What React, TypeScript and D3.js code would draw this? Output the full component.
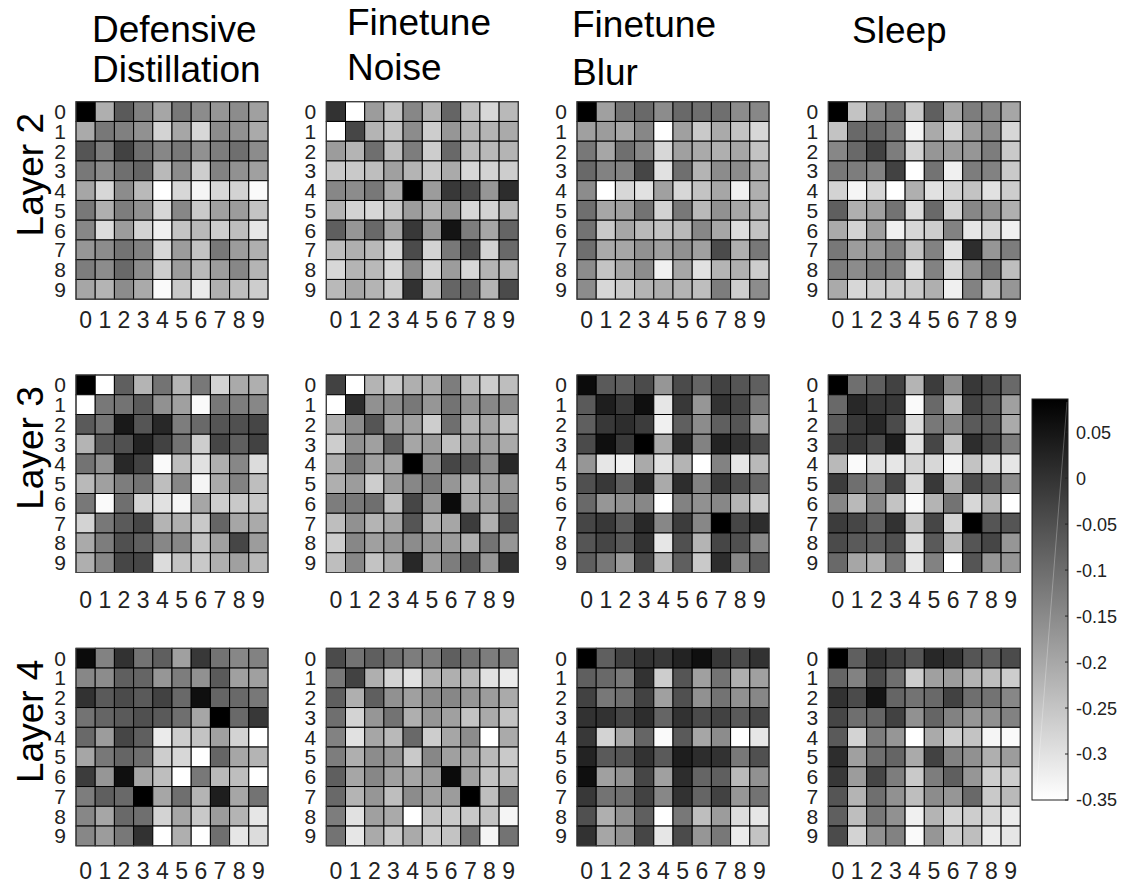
import * as d3 from "d3";

// colour range
const vMin = -0.35;
const vMax = 0.086;

const classLabels = ["0", "1", "2", "3", "4", "5", "6", "7", "8", "9"];
const methodTitles = [
  ["Defensive", "Distillation"],
  ["Finetune", "Noise"],
  ["Finetune", "Blur"],
  ["Sleep"],
];
const layerLabels = ["Layer 2", "Layer 3", "Layer 4"];
const colorbarTicks = [0.05, 0, -0.05, -0.1, -0.15, -0.2, -0.25, -0.3, -0.35];

// Layer 2
const ddLayer2 = [
  [0.086, -0.214, -0.068, -0.133, -0.197, -0.12, -0.154, -0.171, -0.154, -0.188],
  [-0.205, -0.12, -0.133, -0.162, -0.274, -0.197, -0.282, -0.154, -0.162, -0.205],
  [-0.06, -0.128, -0.026, -0.103, -0.145, -0.12, -0.162, -0.128, -0.103, -0.154],
  [-0.12, -0.154, -0.103, -0.086, -0.231, -0.154, -0.265, -0.137, -0.162, -0.188],
  [-0.197, -0.282, -0.154, -0.231, -0.35, -0.282, -0.333, -0.282, -0.274, -0.342],
  [-0.12, -0.214, -0.128, -0.162, -0.282, -0.145, -0.257, -0.188, -0.18, -0.248],
  [-0.145, -0.291, -0.18, -0.274, -0.325, -0.248, -0.231, -0.265, -0.239, -0.308],
  [-0.171, -0.154, -0.111, -0.137, -0.282, -0.18, -0.248, -0.12, -0.18, -0.214],
  [-0.128, -0.154, -0.094, -0.154, -0.265, -0.18, -0.231, -0.18, -0.145, -0.222],
  [-0.197, -0.222, -0.154, -0.205, -0.342, -0.257, -0.316, -0.214, -0.239, -0.265],
];
const fnLayer2 = [
  [0.0, -0.35, -0.18, -0.248, -0.145, -0.222, -0.086, -0.239, -0.282, -0.231],
  [-0.35, -0.034, -0.222, -0.248, -0.154, -0.265, -0.171, -0.222, -0.222, -0.205],
  [-0.18, -0.222, -0.103, -0.239, -0.128, -0.265, -0.094, -0.231, -0.231, -0.222],
  [-0.257, -0.257, -0.239, -0.188, -0.222, -0.257, -0.205, -0.282, -0.274, -0.265],
  [-0.145, -0.154, -0.12, -0.205, 0.086, -0.18, -0.009, -0.043, -0.171, 0.009],
  [-0.222, -0.274, -0.282, -0.257, -0.18, -0.222, -0.171, -0.282, -0.274, -0.231],
  [-0.077, -0.171, -0.094, -0.197, -0.009, -0.171, 0.051, -0.128, -0.197, -0.086],
  [-0.239, -0.214, -0.231, -0.282, -0.043, -0.274, -0.12, -0.051, -0.274, -0.094],
  [-0.282, -0.222, -0.231, -0.282, -0.154, -0.274, -0.18, -0.282, -0.222, -0.222],
  [-0.231, -0.197, -0.222, -0.265, 0.0, -0.231, -0.086, -0.094, -0.222, -0.043],
];
const fbLayer2 = [
  [0.086, -0.188, -0.111, -0.094, -0.154, -0.094, -0.103, -0.103, -0.154, -0.145],
  [-0.188, -0.18, -0.197, -0.145, -0.35, -0.188, -0.257, -0.205, -0.248, -0.282],
  [-0.12, -0.197, -0.103, -0.145, -0.282, -0.188, -0.205, -0.214, -0.197, -0.248],
  [-0.094, -0.137, -0.137, -0.034, -0.299, -0.103, -0.222, -0.154, -0.154, -0.205],
  [-0.154, -0.35, -0.282, -0.299, -0.188, -0.282, -0.248, -0.197, -0.325, -0.214],
  [-0.103, -0.197, -0.188, -0.111, -0.274, -0.12, -0.231, -0.162, -0.197, -0.222],
  [-0.111, -0.257, -0.197, -0.231, -0.248, -0.231, -0.145, -0.197, -0.291, -0.248],
  [-0.103, -0.205, -0.197, -0.162, -0.188, -0.162, -0.188, -0.043, -0.214, -0.12],
  [-0.154, -0.248, -0.197, -0.154, -0.325, -0.197, -0.299, -0.222, -0.214, -0.265],
  [-0.154, -0.282, -0.257, -0.222, -0.214, -0.222, -0.239, -0.128, -0.265, -0.154],
];
const slLayer2 = [
  [0.086, -0.248, -0.154, -0.12, -0.257, -0.077, -0.197, -0.128, -0.145, -0.197],
  [-0.248, -0.094, -0.094, -0.128, -0.333, -0.205, -0.274, -0.18, -0.154, -0.282],
  [-0.145, -0.094, -0.026, -0.128, -0.274, -0.171, -0.18, -0.171, -0.128, -0.257],
  [-0.12, -0.128, -0.137, -0.026, -0.35, -0.111, -0.325, -0.128, -0.137, -0.257],
  [-0.274, -0.333, -0.282, -0.35, -0.214, -0.299, -0.274, -0.248, -0.299, -0.265],
  [-0.077, -0.214, -0.188, -0.111, -0.291, -0.094, -0.274, -0.145, -0.162, -0.214],
  [-0.205, -0.274, -0.188, -0.325, -0.282, -0.265, -0.137, -0.308, -0.282, -0.325],
  [-0.12, -0.18, -0.171, -0.137, -0.248, -0.137, -0.299, 0.009, -0.171, -0.128],
  [-0.128, -0.154, -0.128, -0.137, -0.291, -0.137, -0.282, -0.162, -0.111, -0.239],
  [-0.205, -0.282, -0.265, -0.265, -0.257, -0.214, -0.325, -0.137, -0.239, -0.171],
];

// Layer 3
const ddLayer3 = [
  [0.086, -0.35, -0.077, -0.222, -0.111, -0.222, -0.12, -0.274, -0.205, -0.214],
  [-0.35, -0.12, -0.111, -0.068, -0.162, -0.188, -0.342, -0.12, -0.128, -0.145],
  [-0.068, -0.111, 0.043, -0.06, 0.017, -0.128, -0.094, -0.06, -0.051, -0.034],
  [-0.222, -0.068, -0.051, 0.026, -0.026, -0.111, -0.265, -0.034, -0.077, -0.026],
  [-0.111, -0.162, 0.017, -0.026, -0.342, -0.239, -0.299, -0.214, -0.145, -0.291],
  [-0.231, -0.188, -0.128, -0.111, -0.239, -0.145, -0.333, -0.205, -0.137, -0.239],
  [-0.12, -0.342, -0.103, -0.274, -0.299, -0.333, -0.197, -0.265, -0.257, -0.257],
  [-0.274, -0.12, -0.068, -0.034, -0.222, -0.214, -0.257, -0.086, -0.197, -0.205],
  [-0.205, -0.128, -0.051, -0.077, -0.145, -0.145, -0.248, -0.188, -0.034, -0.18],
  [-0.214, -0.145, -0.034, -0.034, -0.291, -0.248, -0.257, -0.214, -0.188, -0.231],
];
const fnLayer3 = [
  [-0.026, -0.35, -0.222, -0.257, -0.214, -0.214, -0.128, -0.239, -0.265, -0.239],
  [-0.35, 0.009, -0.162, -0.154, -0.12, -0.171, -0.111, -0.162, -0.145, -0.154],
  [-0.214, -0.154, -0.06, -0.188, -0.188, -0.265, -0.103, -0.222, -0.197, -0.248],
  [-0.265, -0.162, -0.188, -0.077, -0.197, -0.18, -0.239, -0.197, -0.188, -0.205],
  [-0.214, -0.12, -0.188, -0.197, 0.086, -0.154, -0.034, -0.06, -0.154, 0.017],
  [-0.214, -0.18, -0.265, -0.18, -0.145, -0.12, -0.171, -0.222, -0.18, -0.18],
  [-0.128, -0.12, -0.103, -0.239, -0.034, -0.171, 0.068, -0.197, -0.188, -0.128],
  [-0.239, -0.162, -0.222, -0.197, -0.06, -0.214, -0.197, -0.017, -0.214, -0.06],
  [-0.265, -0.145, -0.188, -0.171, -0.154, -0.171, -0.18, -0.214, -0.111, -0.171],
  [-0.239, -0.145, -0.248, -0.205, 0.017, -0.18, -0.128, -0.06, -0.171, 0.0],
];
const fbLayer3 = [
  [0.068, -0.068, -0.077, -0.043, -0.171, -0.043, -0.086, -0.026, -0.06, -0.077],
  [-0.068, 0.034, -0.009, 0.06, -0.308, -0.009, -0.171, 0.0, -0.034, -0.12],
  [-0.077, -0.009, 0.009, -0.017, -0.325, -0.077, -0.154, -0.077, -0.06, -0.188],
  [-0.043, 0.06, -0.009, 0.086, -0.205, 0.017, -0.137, 0.026, 0.0, -0.043],
  [-0.171, -0.308, -0.325, -0.205, -0.299, -0.222, -0.35, -0.137, -0.308, -0.231],
  [-0.051, -0.009, -0.077, 0.017, -0.205, 0.009, -0.137, -0.009, -0.051, -0.086],
  [-0.094, -0.171, -0.162, -0.145, -0.35, -0.137, -0.162, -0.145, -0.222, -0.257],
  [-0.034, -0.009, -0.068, 0.017, -0.145, -0.017, -0.145, 0.086, -0.034, 0.009],
  [-0.06, -0.034, -0.068, 0.0, -0.308, -0.051, -0.222, -0.034, -0.051, -0.145],
  [-0.077, -0.12, -0.18, -0.034, -0.231, -0.077, -0.257, 0.009, -0.145, -0.068],
];
const slLayer3 = [
  [0.086, -0.103, -0.077, -0.026, -0.222, -0.017, -0.154, -0.009, -0.043, -0.094],
  [-0.094, 0.017, -0.009, -0.009, -0.342, -0.094, -0.239, -0.026, -0.068, -0.188],
  [-0.068, -0.009, 0.017, -0.043, -0.291, -0.12, -0.145, -0.068, -0.068, -0.205],
  [-0.026, -0.009, -0.043, 0.034, -0.299, -0.034, -0.248, 0.009, -0.043, -0.128],
  [-0.231, -0.342, -0.299, -0.308, -0.274, -0.282, -0.333, -0.248, -0.291, -0.308],
  [-0.017, -0.103, -0.128, -0.034, -0.282, -0.009, -0.222, -0.043, -0.068, -0.154],
  [-0.145, -0.231, -0.145, -0.248, -0.342, -0.222, -0.111, -0.282, -0.231, -0.35],
  [-0.017, -0.034, -0.077, 0.0, -0.248, -0.034, -0.274, 0.086, -0.06, -0.06],
  [-0.043, -0.068, -0.077, -0.051, -0.291, -0.068, -0.231, -0.06, -0.034, -0.171],
  [-0.094, -0.197, -0.214, -0.12, -0.308, -0.137, -0.35, -0.06, -0.171, -0.171],
];

// Layer 4
const ddLayer4 = [
  [0.068, -0.137, 0.0, -0.111, -0.077, -0.188, -0.009, -0.111, -0.145, -0.137],
  [-0.145, -0.154, -0.077, -0.086, -0.171, -0.128, -0.162, -0.068, -0.188, -0.188],
  [0.0, -0.068, -0.043, -0.068, -0.026, -0.094, 0.06, -0.086, -0.094, -0.12],
  [-0.111, -0.086, -0.068, -0.051, -0.068, -0.103, -0.197, 0.086, -0.094, -0.009],
  [-0.094, -0.18, -0.034, -0.077, -0.316, -0.265, -0.248, -0.188, -0.274, -0.35],
  [-0.197, -0.12, -0.086, -0.103, -0.265, -0.282, -0.35, -0.086, -0.197, -0.222],
  [-0.017, -0.171, 0.06, -0.197, -0.239, -0.35, -0.12, -0.231, -0.239, -0.35],
  [-0.128, -0.077, -0.094, 0.086, -0.197, -0.103, -0.222, 0.034, -0.197, -0.111],
  [-0.145, -0.197, -0.094, -0.103, -0.274, -0.197, -0.257, -0.18, -0.222, -0.308],
  [-0.145, -0.18, -0.12, 0.0, -0.35, -0.214, -0.35, -0.103, -0.308, -0.291],
];
const fnLayer4 = [
  [-0.043, -0.111, -0.077, -0.103, -0.128, -0.128, -0.077, -0.111, -0.128, -0.128],
  [-0.12, -0.026, -0.214, -0.274, -0.299, -0.222, -0.214, -0.231, -0.299, -0.316],
  [-0.077, -0.214, -0.077, -0.162, -0.188, -0.154, -0.145, -0.171, -0.18, -0.205],
  [-0.103, -0.274, -0.171, -0.111, -0.214, -0.171, -0.188, -0.248, -0.205, -0.248],
  [-0.137, -0.299, -0.197, -0.231, -0.094, -0.265, -0.197, -0.154, -0.35, -0.205],
  [-0.128, -0.214, -0.154, -0.171, -0.257, -0.145, -0.188, -0.197, -0.231, -0.257],
  [-0.077, -0.197, -0.145, -0.188, -0.197, -0.18, 0.068, -0.188, -0.248, -0.239],
  [-0.094, -0.222, -0.171, -0.239, -0.154, -0.188, -0.18, 0.086, -0.239, -0.12],
  [-0.128, -0.299, -0.188, -0.205, -0.35, -0.248, -0.257, -0.257, -0.248, -0.333],
  [-0.111, -0.308, -0.205, -0.257, -0.205, -0.257, -0.248, -0.111, -0.333, -0.111],
];
const fbLayer4 = [
  [0.086, -0.077, -0.026, 0.0, -0.009, 0.026, 0.06, -0.009, -0.043, 0.0],
  [-0.077, -0.094, -0.12, 0.0, -0.265, -0.06, -0.188, -0.111, -0.214, -0.188],
  [-0.026, -0.12, -0.103, -0.026, -0.188, -0.051, -0.162, -0.111, -0.162, -0.145],
  [0.0, 0.0, -0.034, 0.009, -0.086, 0.0, -0.043, -0.026, -0.068, -0.034],
  [-0.009, -0.274, -0.197, -0.086, -0.342, -0.068, -0.197, -0.154, -0.35, -0.308],
  [0.026, -0.068, -0.06, 0.0, -0.068, 0.034, 0.009, 0.0, -0.12, -0.051],
  [0.06, -0.188, -0.162, -0.034, -0.188, 0.009, -0.086, -0.077, -0.231, -0.162],
  [-0.009, -0.111, -0.103, -0.026, -0.145, 0.0, -0.086, -0.026, -0.171, -0.111],
  [-0.051, -0.214, -0.162, -0.077, -0.35, -0.12, -0.239, -0.18, -0.291, -0.308],
  [0.0, -0.197, -0.162, -0.034, -0.308, -0.043, -0.171, -0.12, -0.316, -0.248],
];
const slLayer4 = [
  [0.086, -0.077, 0.0, -0.026, -0.06, 0.017, 0.0, -0.06, -0.077, -0.043],
  [-0.086, -0.137, -0.043, -0.103, -0.265, -0.188, -0.18, -0.222, -0.239, -0.265],
  [0.0, -0.043, 0.051, -0.086, -0.111, -0.094, -0.026, -0.103, -0.111, -0.145],
  [-0.034, -0.103, -0.086, -0.026, -0.162, -0.086, -0.137, -0.171, -0.162, -0.137],
  [-0.068, -0.274, -0.128, -0.171, -0.35, -0.205, -0.265, -0.248, -0.333, -0.342],
  [0.009, -0.188, -0.103, -0.086, -0.205, -0.026, -0.137, -0.162, -0.214, -0.18],
  [-0.009, -0.18, -0.034, -0.128, -0.257, -0.128, -0.077, -0.171, -0.265, -0.265],
  [-0.06, -0.222, -0.103, -0.162, -0.239, -0.154, -0.171, -0.094, -0.257, -0.231],
  [-0.077, -0.239, -0.12, -0.162, -0.325, -0.222, -0.274, -0.265, -0.282, -0.316],
  [-0.043, -0.274, -0.162, -0.137, -0.342, -0.171, -0.265, -0.239, -0.316, -0.308],
];

const panels = [
  [ddLayer2, fnLayer2, fbLayer2, slLayer2],
  [ddLayer3, fnLayer3, fbLayer3, slLayer3],
  [ddLayer4, fnLayer4, fbLayer4, slLayer4],
];

// layout
const FONT = "'Liberation Sans', Arial, Helvetica, sans-serif";
const panelW = 192;
const panelH = 197.5;
const colX = [76, 326.3, 577, 828.3];
const rowY = [101.7, 375, 648.3];
const xLabelDy = [29, 35, 33];
const titleX = [92, 347, 572, 852];
const titleY = [[42, 82], [35, 80], [37, 85], [43]];
const cb = { x: 1032, w: 36, top: 399, bottom: 800 };

export default function App() {
  const color = d3
    .scaleLinear<string>()
    .domain([vMin, vMax])
    .range(["#ffffff", "#000000"])
    .clamp(true);
  const bx = d3.scaleBand<number>().domain(d3.range(10)).range([0, panelW]);
  const by = d3.scaleBand<number>().domain(d3.range(10)).range([0, panelH]);
  const cbY = d3.scaleLinear().domain([vMin, vMax]).range([cb.bottom, cb.top]);

  return (
    <div style={{ position: "absolute", left: 0, top: 0 }}>
      <svg width={1130} height={883} style={{ display: "block", background: "#fff" }} fontFamily={FONT}>
        <defs>
          <linearGradient id="cbGrad" x1="0" y1="1" x2="0" y2="0">
            <stop offset="0" stopColor={color(vMin)} />
            <stop offset="1" stopColor={color(vMax)} />
          </linearGradient>
        </defs>

        {/* titles */}
        {methodTitles.map((lines, c) =>
          lines.map((t, k) => (
            <text key={`t${c}${k}`} x={titleX[c]} y={titleY[c][k]} fontSize={37} fill="#000">
              {t}
            </text>
          ))
        )}

        {/* layer labels */}
        {layerLabels.map((l, r) => (
          <text
            key={l}
            transform={`translate(43,${rowY[r] + 73}) rotate(-90)`}
            textAnchor="middle"
            fontSize={37}
            fill="#000"
          >
            {l}
          </text>
        ))}

        {/* heatmaps */}
        {panels.map((row, r) =>
          row.map((m, c) => (
            <g key={`p${r}${c}`} transform={`translate(${colX[c]},${rowY[r]})`}>
              {m.map((vals, i) =>
                vals.map((v, j) => (
                  <rect
                    key={`${i}-${j}`}
                    x={bx(j)}
                    y={by(i)}
                    width={bx.bandwidth()}
                    height={by.bandwidth()}
                    fill={color(v)}
                    stroke="#000"
                    strokeWidth={1}
                  />
                ))
              )}
              <rect x={0} y={0} width={panelW} height={panelH} fill="none" stroke="#444" strokeWidth={1} />
              {classLabels.map((lab, i) => (
                <text
                  key={`y${i}`}
                  x={-10}
                  y={by(i)! + by.bandwidth() / 2}
                  dy="0.36em"
                  textAnchor="end"
                  fontSize={21}
                  fill="#222"
                >
                  {lab}
                </text>
              ))}
              {classLabels.map((lab, j) => (
                <text
                  key={`x${j}`}
                  x={bx(j)! + bx.bandwidth() / 2}
                  y={panelH + xLabelDy[r]}
                  textAnchor="middle"
                  fontSize={23}
                  fill="#222"
                >
                  {lab}
                </text>
              ))}
            </g>
          ))
        )}

        {/* colorbar */}
        <rect x={cb.x} y={cb.top} width={cb.w} height={cb.bottom - cb.top} fill="url(#cbGrad)" />
        <line
          x1={cb.x + cb.w - 1}
          y1={cb.top + 3}
          x2={cb.x + 4}
          y2={cb.bottom - 2}
          stroke="#fff"
          strokeOpacity={0.35}
          strokeWidth={0.8}
        />
        <rect
          x={cb.x}
          y={cb.top}
          width={cb.w}
          height={cb.bottom - cb.top}
          fill="none"
          stroke="#222"
          strokeWidth={1}
        />
        {colorbarTicks.map((t) => (
          <g key={`cb${t}`}>
            <line x1={cb.x + cb.w - 3} x2={cb.x + cb.w} y1={cbY(t)} y2={cbY(t)} stroke="#222" strokeWidth={1} />
            <text x={cb.x + cb.w + 8} y={cbY(t)} dy="0.36em" fontSize={18} fill="#222">
              {String(t)}
            </text>
          </g>
        ))}
      </svg>
    </div>
  );
}
